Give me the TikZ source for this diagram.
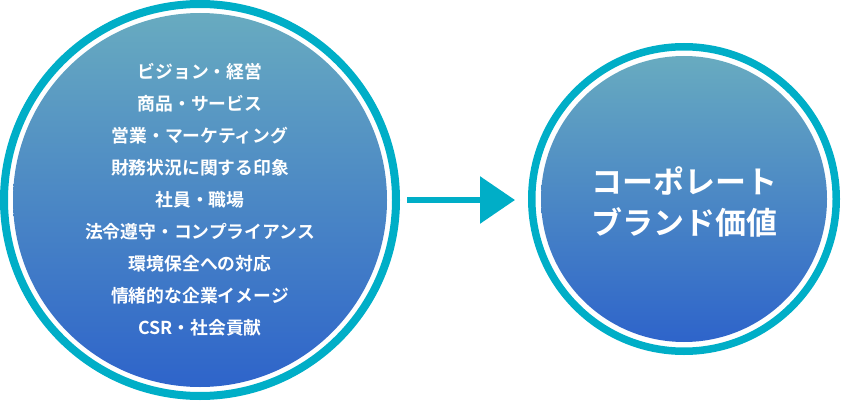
\documentclass[tikz,border=0pt]{standalone}
\usepackage{fontspec}
\newfontfamily\jpfont{Noto Sans CJK JP}[BoldFont={Noto Sans CJK JP Bold}]
\usetikzlibrary{arrows.meta,positioning}
\definecolor{teal}{RGB}{0,174,199}
\definecolor{skytop}{RGB}{104,171,192}
\definecolor{deepblue}{RGB}{46,100,202}
\tikzset{
  ring/.style={circle, draw=teal, line width=#1, inner sep=0pt},
  core/.style={circle, top color=skytop, bottom color=deepblue, inner sep=0pt,
    minimum size=#1, text=white, align=center},
  factortext/.style={font=\jpfont\bfseries\fontsize{17.8pt}{32pt}\selectfont},
  brandtext/.style={font=\jpfont\bfseries\fontsize{31pt}{41pt}\selectfont},
  flowarrow/.style={-{Triangle[length=35pt,width=46pt]}, line width=6pt, draw=teal}
}
\begin{document}
\begin{tikzpicture}[x=1pt,y=1pt]
  \useasboundingbox (0,0) rectangle (841,400);

  % left: brand factors
  \node[ring=8pt, minimum size=392pt] (factorsring) at (200,200) {};
  \node[core=374pt, factortext] (factors) at (200,200) {%
    ビジョン・経営\\
    商品・サービス\\
    営業・マーケティング\\
    財務状況に関する印象\\
    社員・職場\\
    法令遵守・コンプライアンス\\
    環境保全への対応\\
    情緒的な企業イメージ\\
    CSR・社会貢献};

  % right: corporate brand value
  \node[ring=7.5pt, minimum size=304.5pt] (brandring) at (684,201) {};
  \node[core=286pt] (brand) at (684,201) {};
  \node[brandtext, text=white, align=center] (brandlabel) at ([yshift=-3pt]brand.center)
    {コーポレート\\ブランド価値};

  \draw[flowarrow, shorten <=7pt, shorten >=13pt]
    (factorsring.east) -- (factorsring.east -| brandring.west);
\end{tikzpicture}
\end{document}
